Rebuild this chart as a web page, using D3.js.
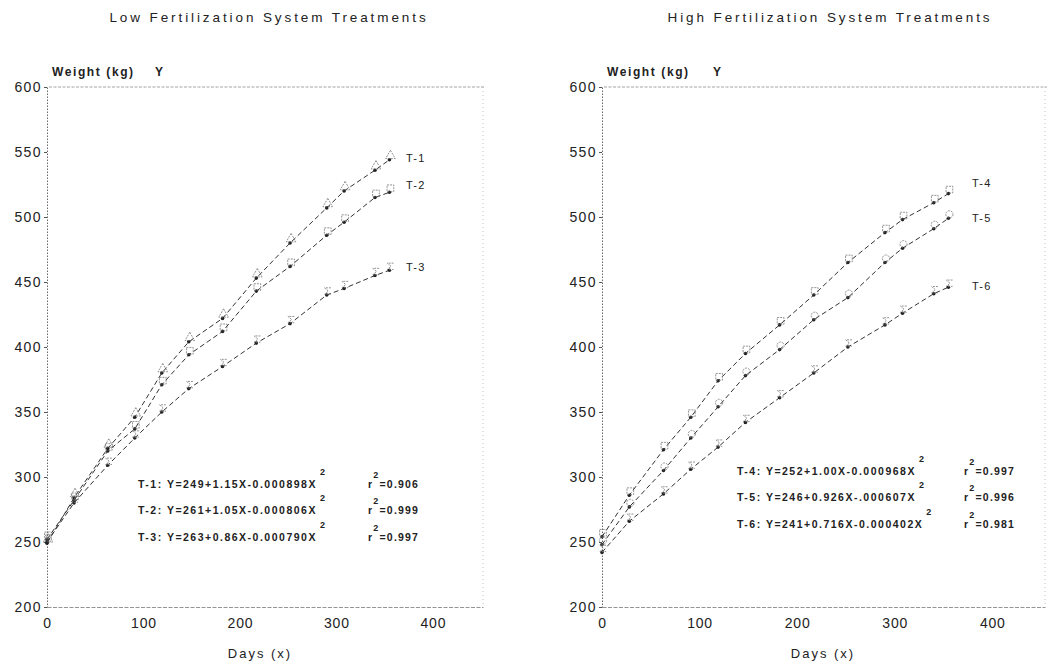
<!DOCTYPE html>
<html><head><meta charset="utf-8">
<script src="https://cdn.jsdelivr.net/npm/d3@7/dist/d3.min.js"></script>
<style>
body{margin:0;background:#fff;}
svg{display:block;font-family:"Liberation Sans",Arial,sans-serif;}
</style></head>
<body>
<svg id="c" width="1048" height="666"></svg>
<script>
// ---- data ----
const days = [0, 28, 63, 91, 119, 147, 182, 217, 252, 290, 308, 340, 355];
const lowT1 = [249, 284, 322, 346, 380, 404, 422, 453, 480, 507, 520, 536, 544];
const lowT2 = [252, 282, 320, 337, 371, 394, 412, 443, 462, 486, 496, 515, 519];
const lowT3 = [250, 280, 309, 330, 350, 368, 385, 403, 418, 440, 445, 455, 459];
const highT4 = [254, 286, 321, 346, 374, 395, 417, 440, 465, 488, 498, 511, 518];
const highT5 = [248, 277, 305, 330, 354, 378, 398, 421, 438, 465, 476, 491, 499];
const highT6 = [242, 266, 287, 306, 323, 342, 361, 380, 400, 417, 426, 441, 446];
const xTicks = [0, 100, 200, 300, 400];
const yTicks = [200, 250, 300, 350, 400, 450, 500, 550, 600];
const lowNames = ["T-1", "T-2", "T-3"];
const highNames = ["T-4", "T-5", "T-6"];
const lowEq = ["T-1: Y=249+1.15X-0.000898X", "T-2: Y=261+1.05X-0.000806X", "T-3: Y=263+0.86X-0.000790X"];
const lowR2 = ["=0.906", "=0.999", "=0.997"];
const highEq = ["T-4: Y=252+1.00X-0.000968X", "T-5: Y=246+0.926X-.000607X", "T-6: Y=241+0.716X-0.000402X"];
const highR2 = ["=0.997", "=0.996", "=0.981"];

const svg = d3.select("#c");
const ink = "#222";

const sigma = {draw(ctx, size){const s=Math.sqrt(size)/2; ctx.moveTo(s,-s); ctx.lineTo(-s,-s); ctx.lineTo(s*0.2,0); ctx.lineTo(-s,s); ctx.lineTo(s,s);}};

function panel(cfg){
  const g = svg.append("g");
  const x = d3.scaleLinear().domain([0, cfg.xmax]).range([cfg.x0, cfg.x1]);
  const y = d3.scaleLinear().domain([200, 600]).range([607, 87]);

  // title
  g.append("text").attr("x", cfg.titleX).attr("y", 22).attr("text-anchor","middle")
    .attr("font-size",13.5).attr("letter-spacing","2.9px").attr("fill",ink).text(cfg.title);
  g.append("text").attr("x", cfg.x0+5).attr("y", 76).attr("font-size",12).attr("font-weight","bold")
    .attr("letter-spacing","1.6px").attr("fill",ink).text("Weight (kg)");
  g.append("text").attr("x", cfg.yX).attr("y", 76).attr("font-size",12).attr("font-weight","bold")
    .attr("fill",ink).text("Y");

  // frame
  g.append("line").attr("x1",cfg.x0+2).attr("x2",cfg.x1+2).attr("y1",y(600)).attr("y2",y(600))
    .attr("stroke","#999").attr("stroke-dasharray","3,1.5").attr("stroke-width",0.9);
  g.append("line").attr("x1",cfg.x1).attr("x2",cfg.x1).attr("y1",y(600)).attr("y2",y(200))
    .attr("stroke","#bbb").attr("stroke-dasharray","1,3").attr("stroke-width",0.9);

  // axes
  const ya = g.append("g").attr("transform",`translate(${cfg.x0},0)`)
    .call(d3.axisLeft(y).tickValues(yTicks).tickSize(3).tickPadding(2).tickFormat(d3.format("d")));
  ya.select(".domain").attr("stroke","#666").attr("stroke-dasharray","1.5,1.5");
  ya.selectAll(".tick line").attr("stroke","#555");
  ya.selectAll("text").attr("font-size",14).attr("letter-spacing","1.4px").attr("fill",ink)
    .attr("font-family","Liberation Sans, Arial, sans-serif");

  const xa = g.append("g").attr("transform",`translate(0,${y(200)})`)
    .call(d3.axisBottom(x).tickValues(xTicks).tickSize(0).tickPadding(11).tickFormat(d3.format("d")));
  xa.select(".domain").attr("stroke","#888").attr("stroke-dasharray","4,1.5").attr("stroke-width",0.9);
  xa.selectAll("text").attr("font-size",14).attr("letter-spacing","0.8px").attr("fill",ink)
    .attr("font-family","Liberation Sans, Arial, sans-serif");

  g.append("text").attr("x", cfg.daysX).attr("y", 658).attr("text-anchor","middle")
    .attr("font-size",13).attr("letter-spacing","2px").attr("fill",ink).text("Days (x)");

  // series
  const line = d3.line().x((d,i)=>x(days[i])).y(d=>y(d));
  cfg.series.forEach((s, k)=>{
    g.append("path").datum(s.values).attr("d", line).attr("fill","none")
      .attr("stroke","#333").attr("stroke-width",1).attr("stroke-dasharray","5,3");
    g.selectAll(null).data(s.values).enter().append("circle")
      .attr("cx",(d,i)=>x(days[i])).attr("cy",d=>y(d)).attr("r",1.8).attr("fill","#222");
    const sym = d3.symbol().type(s.sym).size(s.size);
    g.selectAll(null).data(s.values).enter().append("path")
      .attr("transform",(d,i)=>`translate(${x(days[i])+1},${y(d)-4})`)
      .attr("d", sym).attr("fill","none").attr("stroke","#777").attr("stroke-width",0.8)
      .attr("stroke-dasharray","2,1");
    g.append("text").attr("x", cfg.labelX).attr("y", s.labelY+4).attr("font-size",11)
      .attr("letter-spacing","1.2px").attr("fill",ink).text(s.name);
  });

  // equations
  cfg.eq.forEach((t,k)=>{
    const yy = cfg.eqY[k];
    const tx = g.append("text").attr("x", cfg.eqX).attr("y", yy+4).attr("font-size",10.5)
      .attr("font-weight","bold").attr("letter-spacing","1.5px").attr("fill",ink).text(t);
    const w = tx.node().getComputedTextLength();
    g.append("text").attr("x", cfg.eqX + w + 3).attr("y", yy-9).attr("font-size",9).attr("font-weight","bold")
      .attr("fill",ink).text("2");
    g.append("text").attr("x", cfg.rX).attr("y", yy+4).attr("font-size",10.5).attr("font-weight","bold")
      .attr("letter-spacing","1.2px").attr("fill",ink).text("r").append("tspan")
      .attr("dy",-10).attr("font-size",9).text("2").clone(true)
      .attr("dy",10).attr("font-size",10.5).text(cfg.r2[k]);
  });
}

panel({
  title:"Low Fertilization System Treatments", titleX:269, daysX:260,
  x0:47, x1:483, xmax:452, labelX:406, yX:155,
  series:[
    {name:lowNames[0], values:lowT1, sym:d3.symbolTriangle, size:40, labelY:158},
    {name:lowNames[1], values:lowT2, sym:d3.symbolSquare, size:45, labelY:185},
    {name:lowNames[2], values:lowT3, sym:sigma, size:40, labelY:267}
  ],
  eq:lowEq, r2:lowR2, eqX:138, eqY:[484,510,537], rX:368
});
panel({
  title:"High Fertilization System Treatments", titleX:830, daysX:823,
  x0:602, x1:1045, xmax:454, labelX:972, yX:713,
  series:[
    {name:highNames[0], values:highT4, sym:d3.symbolSquare, size:45, labelY:183},
    {name:highNames[1], values:highT5, sym:d3.symbolCircle, size:40, labelY:218},
    {name:highNames[2], values:highT6, sym:sigma, size:40, labelY:286}
  ],
  eq:highEq, r2:highR2, eqX:737, eqY:[471,497,524], rX:964
});
</script>
</body></html>
